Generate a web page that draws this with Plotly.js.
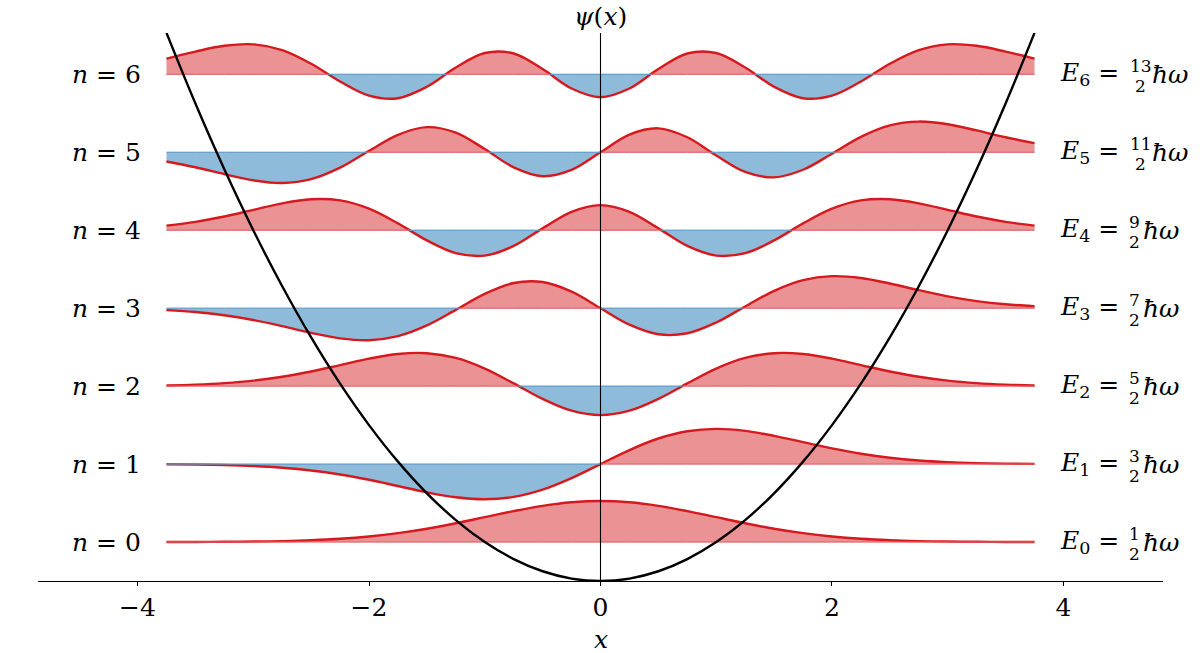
<!DOCTYPE html>
<html>
<head>
<meta charset="utf-8">
<script src="https://cdn.plot.ly/plotly-3.0.1.min.js"></script>
<style>html,body{margin:0;padding:0;background:#fff;}#chart{width:1200px;height:653px;}</style>
</head>
<body>
<div id="chart"></div>
<script>
// ---- data ----
const xs = [-3.75,-3.5,-3.25,-3,-2.75,-2.5,-2.25,-2,-1.75,-1.5,-1.25,-1,-0.75,-0.5,-0.25,0,0.25,0.5,0.75,1,1.25,1.5,1.75,2,2.25,2.5,2.75,3,3.25,3.5,3.75];
const levels = [0.5,1.5,2.5,3.5,4.5,5.5,6.5];
const stateLabels = ["0","1","2","3","4","5","6"];
const energyNumerators = ["1","3","5","7","9","11","13"];
const psi0 = [0.0005,0.0012,0.0027,0.0058,0.0120,0.0231,0.0418,0.0712,0.1137,0.1707,0.2407,0.3189,0.3969,0.4640,0.5096,0.5258,0.5096,0.4640,0.3969,0.3189,0.2407,0.1707,0.1137,0.0712,0.0418,0.0231,0.0120,0.0058,0.0027,0.0012,0.0005];
const psi1 = [-0.0025,-0.0057,-0.0123,-0.0248,-0.0466,-0.0817,-0.1331,-0.2013,-0.2814,-0.3621,-0.4255,-0.4510,-0.4210,-0.3281,-0.1802,0,0.1802,0.3281,0.4210,0.4510,0.4255,0.3621,0.2814,0.2013,0.1331,0.0817,0.0466,0.0248,0.0123,0.0057,0.0025];
const psi2 = [0.0089,0.0191,0.0381,0.0702,0.1197,0.1879,0.2699,0.3522,0.4121,0.4225,0.3617,0.2255,0.0351,-0.1640,-0.3153,-0.3718,-0.3153,-0.1640,0.0351,0.2255,0.3617,0.4225,0.4121,0.3522,0.2699,0.1879,0.1197,0.0702,0.0381,0.0191,0.0089];
const psi3 = [-0.0253,-0.0500,-0.0909,-0.1518,-0.2307,-0.3168,-0.3872,-0.4108,-0.3590,-0.2217,-0.0217,0.1841,0.3222,0.3349,0.2115,0,-0.2115,-0.3349,-0.3222,-0.1841,0.0217,0.2217,0.3590,0.4108,0.3872,0.3168,0.2307,0.1518,0.0909,0.0500,0.0253];
const psi4 = [0.0593,0.1071,0.1761,0.2611,0.3450,0.3973,0.3822,0.2760,0.0874,-0.1307,-0.2941,-0.3255,-0.2013,0.0237,0.2357,0.3220,0.2357,0.0237,-0.2013,-0.3255,-0.2941,-0.1307,0.0874,0.2760,0.3822,0.3973,0.3450,0.2611,0.1761,0.1071,0.0593];
const psi5 = [-0.1181,-0.1924,-0.2805,-0.3597,-0.3936,-0.3448,-0.1976,0.0184,0.2244,0.3223,0.2519,0.0412,-0.1927,-0.3070,-0.2264,0,0.2264,0.3070,0.1927,-0.0412,-0.2519,-0.3223,-0.2244,-0.0184,0.1976,0.3448,0.3936,0.3597,0.2805,0.1924,0.1181];
const psi6 = [0.2015,0.2910,0.3657,0.3846,0.3101,0.1351,-0.0922,-0.2731,-0.3065,-0.1598,0.0866,0.2734,0.2672,0.0670,-0.1825,-0.2939,-0.1825,0.0670,0.2672,0.2734,0.0866,-0.1598,-0.3065,-0.2731,-0.0922,0.1351,0.3101,0.3846,0.3657,0.2910,0.2015];
const potential = [7.0313,6.125,5.2813,4.5,3.7813,3.125,2.5313,2,1.5313,1.125,0.7813,0.5,0.2813,0.125,0.0313,0,0.0313,0.125,0.2813,0.5,0.7813,1.125,1.5313,2,2.5313,3.125,3.7813,4.5,5.2813,6.125,7.0313];
const xTicks = [-4,-2,0,2,4];

// ---- styles ----
const FONT = "DejaVu Serif";
const RED_FILL = "rgb(235,147,148)";
const BLUE_FILL = "rgb(143,187,218)";
const RED_EDGE = "rgb(224,100,101)";
const BLUE_EDGE = "rgb(95,157,201)";
const LINE_RED = "rgb(214,25,30)";
const psis = [psi0,psi1,psi2,psi3,psi4,psi5,psi6];

const traces = [];
const edgeTraces = [];
psis.forEach((psi, i) => {
  const E = levels[i];
  traces.push({
    x: xs, y: xs.map(() => E), type: "scatter", mode: "lines",
    line: {width: 0, color: "rgba(0,0,0,0)"}, hoverinfo: "skip", showlegend: false
  });
  traces.push({
    x: xs, y: psi.map(v => E + v), type: "scatter", mode: "lines",
    line: {color: LINE_RED, width: 2.4, shape: "spline", smoothing: 1},
    fill: "tonexty",
    fillgradient: {type: "vertical", start: E - 0.5, stop: E + 0.5,
      colorscale: [[0, BLUE_FILL],[0.5, BLUE_FILL],[0.5, RED_FILL],[1, RED_FILL]]},
    hoverinfo: "skip", showlegend: false
  });
  // baseline edge of the fill, split by sign of psi
  const pts = [];
  for (let k = 0; k < xs.length; k++) {
    pts.push(xs[k]);
    if (k < xs.length - 1) {
      const a = psi[k], b = psi[k + 1];
      if (a * b < 0) pts.push(xs[k] + a / (a - b) * (xs[k + 1] - xs[k]));
    }
  }
  const red = {x: [], y: []}, blue = {x: [], y: []};
  for (let k = 0; k < pts.length - 1; k++) {
    const xm = (pts[k] + pts[k + 1]) / 2;
    let j = 0;
    while (j < xs.length - 2 && xs[j + 1] < xm) j++;
    const t = (xm - xs[j]) / (xs[j + 1] - xs[j]);
    const vm = psi[j] + t * (psi[j + 1] - psi[j]);
    const seg = vm >= 0 ? red : blue;
    seg.x.push(pts[k], pts[k + 1], null);
    seg.y.push(E, E, null);
  }
  [[red, RED_EDGE], [blue, BLUE_EDGE]].forEach(([s, c]) => {
    edgeTraces.push({x: s.x, y: s.y, type: "scatter", mode: "lines", line: {color: c, width: 1.2},
      connectgaps: false, hoverinfo: "skip", showlegend: false});
  });
});
edgeTraces.forEach(t => traces.push(t));
traces.push({
  x: xs, y: potential, type: "scatter", mode: "lines",
  line: {color: "black", width: 2.4, shape: "spline", smoothing: 1},
  hoverinfo: "skip", showlegend: false
});

const annotations = [];
levels.forEach((E, i) => {
  annotations.push({x: -3.95, y: E, xref: "x", yref: "y", xanchor: "right", yanchor: "middle",
    text: "<i>n</i> = " + stateLabels[i], showarrow: false, font: {family: FONT, size: 25, color: "black"}});
  annotations.push({x: 3.95, y: E, xref: "x", yref: "y", xanchor: "left", yanchor: "middle",
    text: "<i>E</i><sub>" + stateLabels[i] + "</sub> =", showarrow: false, font: {family: FONT, size: 25, color: "black"}});
  const len = energyNumerators[i].length;
  const fc = 77 + 6 * (len - 1);
  annotations.push({x: 3.95, y: E, xref: "x", yref: "y", xanchor: "center", yanchor: "middle", xshift: fc, yshift: 8,
    text: energyNumerators[i], showarrow: false, font: {family: FONT, size: 17, color: "black"}});
  annotations.push({x: 3.95, y: E, xref: "x", yref: "y", xanchor: "center", yanchor: "middle", xshift: fc, yshift: -12,
    text: "2", showarrow: false, font: {family: FONT, size: 17, color: "black"}});
  annotations.push({x: 3.95, y: E, xref: "x", yref: "y", xanchor: "left", yanchor: "middle", xshift: 83 + 9 * (len - 1),
    text: "<i>ħω</i>", showarrow: false, font: {family: FONT, size: 25, color: "black"}});
});
annotations.push({x: 0, y: 1, xref: "x", yref: "paper", xanchor: "center", yanchor: "bottom",
  text: "<i>ψ</i>(<i>x</i>)", showarrow: false, font: {family: FONT, size: 25, color: "black"}});
annotations.push({x: 0.5, y: -72 / 548, xref: "paper", yref: "paper", xanchor: "center", yanchor: "bottom", yshift: -3,
  text: "<i>x</i>", showarrow: false, font: {family: FONT, size: 25, color: "black"}});

const layout = {
  width: 1200, height: 653,
  margin: {l: 38, r: 37, t: 33, b: 72, pad: 0},
  paper_bgcolor: "white", plot_bgcolor: "white",
  showlegend: false,
  font: {family: FONT},
  xaxis: {range: [-4.86, 4.86], tickvals: xTicks, ticktext: xTicks.map(v => v < 0 ? "\u2212" + Math.abs(v) : String(v)),
    showline: true, linecolor: "black", linewidth: 1.1, ticks: "outside", ticklen: 4, tickwidth: 1, tickcolor: "black",
    showgrid: false, zeroline: false, tickfont: {family: FONT, size: 25, color: "black"}},
  yaxis: {range: [0, 7.03], visible: false, showgrid: false, zeroline: false},
  shapes: [{type: "line", xref: "x", yref: "paper", x0: 0, x1: 0, y0: 0, y1: 1,
    line: {color: "black", width: 1.1}, layer: "above"}],
  annotations: annotations
};

Plotly.newPlot("chart", traces, layout, {displayModeBar: false, staticPlot: true});
</script>
</body>
</html>
